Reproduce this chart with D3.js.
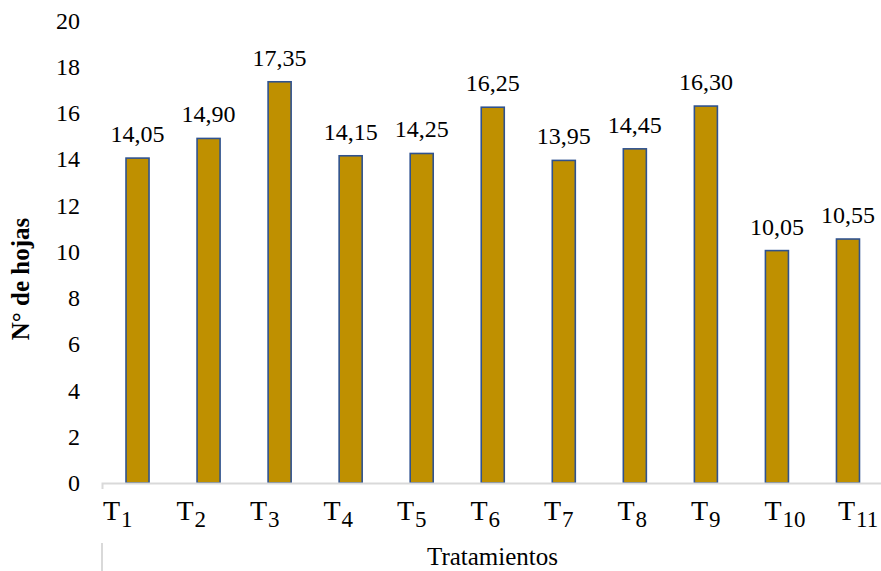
<!DOCTYPE html>
<html>
<head>
<meta charset="utf-8">
<script src="https://cdn.jsdelivr.net/npm/d3@7"></script>
<style>
  html, body { margin: 0; padding: 0; background: #fff; }
</style>
</head>
<body>
<svg id="chart" width="881" height="571"></svg>
<script>
const categories = ["T1","T2","T3","T4","T5","T6","T7","T8","T9","T10","T11"];
const subscripts = ["1","2","3","4","5","6","7","8","9","10","11"];
const values = [14.05, 14.90, 17.35, 14.15, 14.25, 16.25, 13.95, 14.45, 16.30, 10.05, 10.55];
const valueLabels = ["14,05","14,90","17,35","14,15","14,25","16,25","13,95","14,45","16,30","10,05","10,55"];
const yTicks = [0, 2, 4, 6, 8, 10, 12, 14, 16, 18, 20];
const yTitle = "N° de hojas";
const xTitle = "Tratamientos";

const FONT = "'Liberation Serif', 'Times New Roman', serif";
const svg = d3.select("#chart");

const y = d3.scaleLinear().domain([0, 20]).range([483, 20.5]);
const x = d3.scaleBand().domain(categories).range([102, 883.5])
  .paddingInner(0.676).paddingOuter(0.338);
const xLab = d3.scalePoint().domain(categories).range([103, 838]);

// Y axis (labels only)
const yAxis = svg.append("g")
  .attr("transform", "translate(102,0)")
  .call(d3.axisLeft(y).tickValues(yTicks).tickSize(0).tickPadding(22).tickFormat(d3.format("d")));
yAxis.select(".domain").remove();
yAxis.selectAll("text")
  .style("font-family", FONT)
  .style("font-size", "24px")
  .attr("fill", "#000");

// Bars
svg.append("g").selectAll("rect")
  .data(values)
  .join("rect")
  .attr("x", (d, i) => x(categories[i]))
  .attr("y", d => y(d))
  .attr("width", x.bandwidth())
  .attr("height", d => y(0) - y(d))
  .attr("fill", "#BF9000")
  .attr("stroke", "#2F528F")
  .attr("stroke-width", 1.6);

// X axis line
const xAxis = svg.append("g")
  .attr("transform", "translate(0," + y(0) + ")")
  .call(d3.axisBottom(x).tickSize(0).tickSizeOuter(6).tickFormat(""));
xAxis.select(".domain").attr("stroke", "#D9D9D9").attr("stroke-width", 2);

// lower vertical divider of category axis
svg.append("line")
  .attr("x1", x.range()[0]).attr("x2", x.range()[0])
  .attr("y1", 543).attr("y2", 571)
  .attr("stroke", "#D9D9D9").attr("stroke-width", 2);

// Data labels
svg.append("g").selectAll("text")
  .data(values)
  .join("text")
  .attr("x", (d, i) => x(categories[i]) + x.bandwidth() / 2)
  .attr("y", d => y(d) - 16)
  .attr("text-anchor", "middle")
  .style("font-family", FONT)
  .style("font-size", "24px")
  .attr("fill", "#000")
  .text((d, i) => valueLabels[i]);

// Category labels with subscripts
const catText = svg.append("g").selectAll("text")
  .data(categories)
  .join("text")
  .attr("x", d => xLab(d))
  .attr("y", 520)
  .attr("text-anchor", "start")
  .style("font-family", FONT)
  .attr("fill", "#000");
catText.append("tspan").style("font-size", "28px").text("T");
catText.append("tspan").style("font-size", "23px").attr("dy", 7).attr("dx", 1)
  .text((d, i) => subscripts[i]);

// Axis titles
svg.append("text")
  .attr("transform", "translate(29,279) rotate(-90)")
  .attr("text-anchor", "middle")
  .style("font-family", FONT)
  .style("font-size", "25px")
  .style("font-weight", "bold")
  .attr("fill", "#000")
  .text(yTitle);

svg.append("text")
  .attr("x", 492.5)
  .attr("y", 565)
  .attr("text-anchor", "middle")
  .style("font-family", FONT)
  .style("font-size", "25px")
  .attr("fill", "#000")
  .text(xTitle);
</script>
</body>
</html>
